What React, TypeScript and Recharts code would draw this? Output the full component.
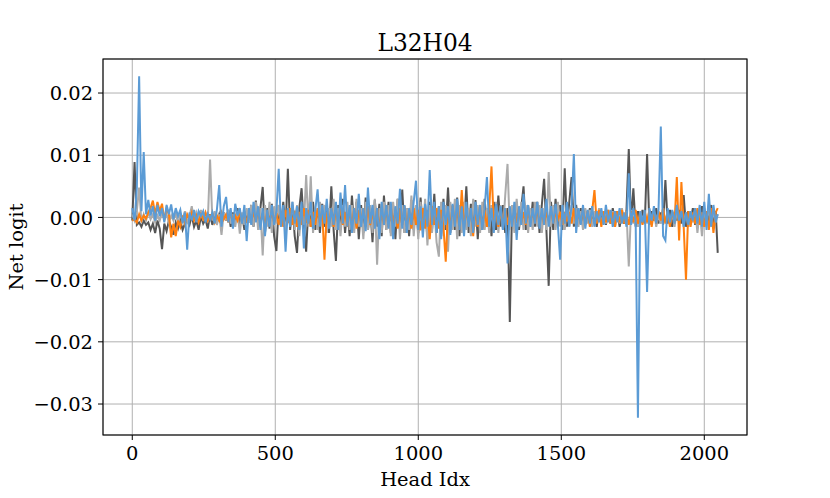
import React from 'react';
import { LineChart, Line, XAxis, YAxis, CartesianGrid } from 'recharts';

// Head index (sampled every 8 heads)
const HEAD_IDX = [
  0,8,16,24,32,40,48,56,64,72,80,88,96,104,112,120,
  128,136,144,152,160,168,176,184,192,200,208,216,224,232,240,248,
  256,264,272,280,288,296,304,312,320,328,336,344,352,360,368,376,
  384,392,400,408,416,424,432,440,448,456,464,472,480,488,496,504,
  512,520,528,536,544,552,560,568,576,584,592,600,608,616,624,632,
  640,648,656,664,672,680,688,696,704,712,720,728,736,744,752,760,
  768,776,784,792,800,808,816,824,832,840,848,856,864,872,880,888,
  896,904,912,920,928,936,944,952,960,968,976,984,992,1000,1008,1016,
  1024,1032,1040,1048,1056,1064,1072,1080,1088,1096,1104,1112,1120,1128,1136,1144,
  1152,1160,1168,1176,1184,1192,1200,1208,1216,1224,1232,1240,1248,1256,1264,1272,
  1280,1288,1296,1304,1312,1320,1328,1336,1344,1352,1360,1368,1376,1384,1392,1400,
  1408,1416,1424,1432,1440,1448,1456,1464,1472,1480,1488,1496,1504,1512,1520,1528,
  1536,1544,1552,1560,1568,1576,1584,1592,1600,1608,1616,1624,1632,1640,1648,1656,
  1664,1672,1680,1688,1696,1704,1712,1720,1728,1736,1744,1752,1760,1768,1776,1784,
  1792,1800,1808,1816,1824,1832,1840,1848,1856,1864,1872,1880,1888,1896,1904,1912,
  1920,1928,1936,1944,1952,1960,1968,1976,1984,1992,2000,2008,2016,2024,2032,2040,
  2047,
];

// Net logit values, in units of 1e-3
const BLUE = [
  1.5,-0.5,4.8,22.7,1.0,10.5,0.5,2.8,0.3,1.8,-0.5,2.0,0.2,1.5,-0.8,2.0,
  0.5,2.1,-0.3,1.5,0.2,1.2,-1.0,0.8,-5.2,0.8,-0.5,1.2,-0.8,1.0,0.2,1.0,
  -0.8,0.6,-0.3,0.8,-1.0,1.3,5.2,-1.5,1.8,3.3,-0.8,1.5,-1.8,2.2,0.3,1.5,
  -1.0,2.0,-3.8,1.5,-1.2,2.5,-0.8,1.8,-2.0,1.5,-3.0,1.2,-1.5,2.0,-1.2,1.0,
  7.8,-1.5,2.0,-5.5,1.5,-1.5,2.5,-1.0,1.8,-2.0,2.5,-5.0,1.5,-1.0,2.5,-1.8,
  1.2,4.5,-1.5,2.0,-1.0,3.0,-1.8,1.5,-1.2,2.5,-2.0,4.0,-1.0,5.2,-1.5,2.0,
  -2.5,1.5,-1.0,3.8,-1.5,1.5,-2.2,4.8,-1.0,2.0,-1.8,1.5,-3.5,2.5,-1.2,2.0,
  -1.8,2.5,-3.5,1.8,-1.0,4.6,-1.8,2.0,-2.5,1.5,-1.2,2.5,5.9,-2.0,1.8,-3.2,
  2.2,-1.5,7.6,-1.2,2.5,-2.5,1.8,-3.5,2.5,-1.2,1.8,-2.8,2.2,-1.5,3.0,-2.0,
  1.8,-3.0,2.5,-1.5,1.5,-2.5,2.5,-1.2,2.0,-2.0,1.5,6.5,-1.5,1.5,-2.5,2.2,
  -1.2,1.8,-2.0,1.5,-7.4,1.8,-1.5,2.5,-3.6,1.8,-1.2,3.8,-1.0,2.0,-1.5,1.5,
  -1.0,2.5,-1.8,1.5,-1.2,3.0,-1.5,1.8,-1.0,2.2,-1.2,-6.8,2.0,-1.0,2.5,-1.5,
  2.0,10.2,-2.5,1.5,-1.2,2.0,-1.8,1.2,-1.0,1.8,-1.5,1.0,-0.8,1.5,-1.2,2.0,
  -0.8,1.2,-1.5,1.0,-0.8,1.5,-1.0,0.8,-1.5,7.1,-1.2,1.5,-0.5,-32.2,1.0,-0.8,
  1.2,-12.0,1.5,-0.5,1.8,-1.0,1.2,14.6,-3.0,-3.7,1.5,-0.8,1.2,-1.0,2.0,-0.5,
  1.0,-1.5,0.8,-1.2,1.0,-0.5,1.5,-1.0,2.0,-1.5,2.5,-2.0,3.8,-1.5,2.0,-0.8,
  0.5,
];

const DARK_GRAY = [
  -0.5,8.9,-1.2,-0.8,-1.5,-0.5,-1.2,-0.8,-2.0,-1.0,-2.5,-0.5,-1.8,-5.1,-1.0,-2.2,
  -0.5,-1.5,-2.8,-0.8,-1.8,-0.5,-2.0,-1.0,-0.5,-1.2,0.3,-1.5,-0.5,-2.0,0.2,-1.0,
  -0.3,-1.8,0.5,-1.2,0.2,-0.8,0.5,-1.0,0.8,-0.5,1.2,-1.5,0.8,-0.8,1.5,-1.2,
  0.5,-2.0,1.0,-0.8,2.0,-1.5,2.7,-1.0,1.5,4.9,-2.5,1.5,-1.8,2.2,-3.0,-5.4,
  2.0,-1.5,2.5,-2.0,7.8,-2.0,2.0,-3.0,-5.7,1.5,4.7,-1.5,-5.5,2.0,-1.5,2.5,
  -2.0,1.2,-2.5,2.2,-1.5,1.5,-2.5,5.0,-2.0,-7.0,2.0,-1.5,3.0,-2.5,1.5,-3.0,
  3.5,-1.5,2.5,-3.5,2.0,-2.5,3.2,-2.0,1.5,-4.0,2.8,-1.5,2.2,-3.0,3.5,-2.0,
  2.5,-2.5,2.0,-3.5,3.0,-1.8,4.5,-2.5,1.5,-3.0,2.8,-2.0,2.0,-2.5,3.2,-1.5,
  2.0,-3.5,2.5,-2.0,3.8,-2.5,1.8,-3.0,3.0,-2.0,4.8,-2.5,2.0,-2.0,3.2,-3.0,
  2.0,-1.5,5.0,-2.5,2.2,-2.0,2.8,-3.5,2.0,-2.0,3.0,-1.5,2.0,-3.0,2.5,-2.0,
  3.5,-1.5,2.0,-2.5,1.5,-16.8,2.0,-1.5,2.5,-2.0,1.5,5.0,-2.0,2.0,-1.5,2.5,
  -1.5,2.5,-2.5,2.0,6.2,-2.0,-11.0,2.5,-2.0,3.0,-1.5,2.0,-2.0,7.9,-1.5,2.5,
  6.5,-1.5,2.0,-1.0,1.5,-1.2,1.0,-0.8,1.5,-1.0,0.8,-1.5,1.2,-0.5,1.0,-1.2,
  0.8,-1.0,1.5,-0.8,1.0,-1.5,0.5,-1.0,1.2,11.0,-1.0,4.7,-1.5,1.0,-0.8,1.2,
  -1.0,10.2,-1.2,1.0,-0.5,1.5,-1.0,0.8,-1.2,6.0,-1.0,1.2,-1.5,0.8,-0.5,1.2,
  -1.0,3.6,-1.5,1.0,-0.8,1.5,-1.2,0.5,-1.0,1.8,-1.5,1.0,-0.8,2.0,-1.5,1.0,
  -5.7,
];

const LIGHT_GRAY = [
  0.5,-0.5,1.0,4.8,-0.8,0.5,-0.5,0.8,-0.3,0.5,-0.8,0.3,-0.5,0.8,-0.3,0.5,
  -0.8,0.3,-0.5,0.8,-1.0,0.5,-0.3,1.0,-0.8,0.2,1.8,-0.5,0.8,-0.3,1.2,-0.5,
  0.8,-0.8,9.3,-0.5,1.0,-1.2,0.5,-2.8,0.8,-0.5,1.2,-1.0,0.5,-1.5,1.0,-2.6,
  0.8,-1.2,1.5,-0.8,2.0,-1.5,2.5,-2.0,1.5,-6.1,2.0,-1.5,2.5,-2.5,1.8,-1.0,
  2.0,-1.5,1.2,-2.5,1.5,-1.2,2.5,-2.0,2.0,-3.0,1.5,-1.2,6.8,-1.5,6.6,-2.5,
  1.5,-2.0,2.5,-1.2,2.0,-2.5,1.5,-1.5,3.0,-2.0,1.5,-3.0,2.0,-1.5,2.5,-2.0,
  2.0,-2.5,3.0,-1.5,1.5,-3.5,2.5,-2.0,2.0,-2.5,3.0,-7.6,1.5,-2.5,2.5,-2.0,
  2.0,-3.0,2.5,-1.5,3.0,-3.5,2.0,-2.5,1.5,-2.0,3.5,-3.0,2.0,-3.5,2.5,-2.0,
  3.0,-4.5,2.0,-2.5,1.5,-4.0,-6.3,2.5,-2.0,2.0,-5.5,2.5,-2.0,3.0,-3.5,2.0,
  -2.5,2.5,-2.0,1.5,-3.0,3.0,-1.5,2.0,-2.5,2.5,-2.0,1.5,-2.5,2.0,-1.5,2.5,
  -2.5,2.0,-2.0,3.5,8.6,-2.0,2.0,-2.5,3.0,-1.5,2.5,-2.0,2.0,-2.5,1.5,-2.0,
  2.5,-1.5,2.0,-2.5,1.5,-2.0,7.3,-1.5,2.0,-2.0,2.5,-1.5,2.0,-2.0,1.5,-1.5,
  2.0,-1.0,1.5,-1.5,1.0,-2.0,1.5,-1.0,1.2,-1.5,1.0,-0.8,1.5,-1.2,0.8,-1.0,
  1.2,-0.8,1.0,-1.5,0.8,-1.0,1.5,-0.8,1.0,-7.9,1.2,-1.0,0.8,-1.5,1.0,-0.5,
  0.8,-1.0,1.2,-0.8,1.0,-1.5,0.5,-1.0,1.5,-0.8,1.0,-1.2,0.8,-1.5,1.0,-0.8,
  1.2,-1.0,0.8,-1.5,1.0,-0.8,1.5,-2.5,1.0,-3.0,1.5,-1.0,2.0,-1.5,1.0,-0.5,
  0.5,
];

const ORANGE = [
  -0.5,-0.3,-0.8,0.5,-0.5,0.3,-0.2,0.8,1.5,2.7,0.5,2.5,1.0,2.2,-0.5,1.5,
  0.5,-3.2,-1.0,-3.0,-0.5,-1.5,0.3,-1.0,0.5,-0.3,0.8,-0.5,0.3,-0.8,0.5,-0.3,
  0.8,-0.5,0.3,0.5,-0.8,0.3,-0.5,0.8,-0.3,0.5,-0.8,1.0,-0.5,0.3,-0.5,0.8,
  -0.5,0.6,-0.9,0.7,-0.6,0.9,-0.7,1.2,-0.9,0.6,-1.2,0.9,-0.6,1.2,-0.9,0.7,
  -1.2,0.9,-1.5,1.2,-0.9,1.5,-1.2,1.1,-1.5,0.9,-1.2,1.5,-0.9,1.2,-1.5,0.9,
  -1.2,1.5,-0.9,1.2,-6.8,0.9,-1.2,1.5,-1.5,1.2,-0.9,1.7,-1.2,0.9,-1.5,1.2,
  -1.2,1.5,-1.8,1.2,-0.9,1.5,-1.5,1.8,-1.2,0.9,-1.5,1.5,-1.8,1.2,-1.2,1.5,
  -1.5,1.8,-1.2,1.2,-1.8,1.5,-1.2,1.8,-1.5,1.2,-1.8,1.5,-1.2,1.2,-2.1,1.5,
  -1.8,1.2,-3.5,1.8,-1.2,1.5,-1.8,1.2,-1.5,-7.1,1.2,-1.5,1.8,-1.2,1.5,-1.8,
  4.4,-1.5,1.2,-1.2,1.5,-3.0,1.2,-1.5,1.8,-1.8,1.2,-1.5,1.5,8.2,-1.2,1.2,
  -1.5,1.2,-0.9,1.5,-1.2,0.9,-1.2,1.2,-0.9,1.5,-0.9,0.9,-1.2,1.2,-0.9,0.9,
  -0.9,1.2,-0.9,0.9,-1.2,0.9,-0.6,1.2,-0.9,0.9,-0.6,0.9,-1.2,0.9,-0.6,0.9,
  -1.0,1.5,-1.5,1.0,-1.0,1.5,-1.2,1.0,-1.5,1.0,4.4,-1.0,1.2,-1.5,1.0,-0.8,
  1.2,-1.0,0.8,-1.5,1.0,-0.8,1.2,-1.0,0.8,-1.2,1.0,-0.8,1.2,-1.0,0.5,-1.2,
  1.0,-0.8,1.2,-1.5,0.8,-1.0,1.0,-0.5,1.5,-1.0,0.8,-1.5,1.0,-0.8,6.5,-3.7,
  5.7,-1.5,-10.0,1.0,-1.5,0.8,-1.0,1.5,-1.2,0.8,-1.5,1.0,-2.0,1.5,-2.5,0.8,
  1.5,
];

const UNIT = 0.001;

const X_TICKS = [0, 500, 1000, 1500, 2000];
const X_TICK_LABELS = ['0', '500', '1000', '1500', '2000'];
const Y_TICKS = [-0.03, -0.02, -0.01, 0, 0.01, 0.02];
const Y_TICK_LABELS = ['\u22120.03', '\u22120.02', '\u22120.01', '0.00', '0.01', '0.02'];
const X_DOMAIN: [number, number] = [-102.35, 2149.35];
const Y_DOMAIN: [number, number] = [-0.03498, 0.02547];

const TITLE = 'L32H04';
const X_LABEL = 'Head Idx';
const Y_LABEL = 'Net logit';

const W = 830;
const H = 498;
const PLOT = { left: 103, top: 59, right: 747, bottom: 435 };
const FONT = '"DejaVu Serif", serif';
const FS = 19.44;
const LW = 2;

const data = HEAD_IDX.map((x, i) => ({
  x,
  dark: DARK_GRAY[i] * UNIT,
  light: LIGHT_GRAY[i] * UNIT,
  orange: ORANGE[i] * UNIT,
  blue: BLUE[i] * UNIT,
}));

const nearestIndex = (arr: number[], v: number) => {
  let best = 0;
  for (let i = 1; i < arr.length; i++) {
    if (Math.abs(arr[i] - v) < Math.abs(arr[best] - v)) best = i;
  }
  return best;
};

const XTick = (props: any) => {
  const { x, payload } = props;
  const label = X_TICK_LABELS[nearestIndex(X_TICKS, payload.value)];
  return (
    <text x={x} y={PLOT.bottom + 25} textAnchor="middle" fontFamily={FONT} fontSize={FS} fill="#000">
      {label}
    </text>
  );
};

const YTick = (props: any) => {
  const { y, payload } = props;
  const label = Y_TICK_LABELS[nearestIndex(Y_TICKS, payload.value)];
  return (
    <text x={PLOT.left - 10} y={y + 7.1} textAnchor="end" fontFamily={FONT} fontSize={FS} fill="#000">
      {label}
    </text>
  );
};

export default function App() {
  const cx = (PLOT.left + PLOT.right) / 2;
  const cy = (PLOT.top + PLOT.bottom) / 2;
  return (
    <div style={{ position: 'absolute', left: 0, top: 0, width: W, height: H, background: '#fff' }}>
      <LineChart
        width={W}
        height={H}
        data={data}
        margin={{ top: PLOT.top, right: W - PLOT.right, bottom: 0, left: 0 }}
      >
        <CartesianGrid stroke="#b0b0b0" strokeWidth={1} />
        <XAxis
          dataKey="x"
          type="number"
          domain={X_DOMAIN}
          ticks={X_TICKS}
          allowDataOverflow
          height={H - PLOT.bottom}
          axisLine={false}
          tickLine={{ stroke: '#000', strokeWidth: 1 }}
          tickSize={5}
          tickMargin={5}
          tick={<XTick />}
          interval={0}
        />
        <YAxis
          type="number"
          domain={Y_DOMAIN}
          ticks={Y_TICKS}
          allowDataOverflow
          width={PLOT.left}
          axisLine={false}
          tickLine={{ stroke: '#000', strokeWidth: 1 }}
          tickSize={5}
          tickMargin={5}
          tick={<YTick />}
          interval={0}
        />
        <Line type="linear" dataKey="dark" stroke="#555555" strokeWidth={LW} dot={false} activeDot={false} isAnimationActive={false} />
        <Line type="linear" dataKey="light" stroke="#ababab" strokeWidth={LW} dot={false} activeDot={false} isAnimationActive={false} />
        <Line type="linear" dataKey="orange" stroke="#ff7f0e" strokeWidth={LW} dot={false} activeDot={false} isAnimationActive={false} />
        <Line type="linear" dataKey="blue" stroke="#5b9bd5" strokeWidth={LW} dot={false} activeDot={false} isAnimationActive={false} />
      </LineChart>
      <svg
        width={W}
        height={H}
        style={{ position: 'absolute', left: 0, top: 0, pointerEvents: 'none' }}
      >
        <rect
          x={PLOT.left}
          y={PLOT.top}
          width={PLOT.right - PLOT.left}
          height={PLOT.bottom - PLOT.top}
          fill="none"
          stroke="#000"
          strokeWidth={1.1}
        />
        <text x={cx} y={50.7} textAnchor="middle" fontFamily={FONT} fontSize={23.33} fill="#000">
          {TITLE}
        </text>
        <text x={cx} y={485.5} textAnchor="middle" fontFamily={FONT} fontSize={FS} fill="#000">
          {X_LABEL}
        </text>
        <text
          x={23.4}
          y={cy}
          textAnchor="middle"
          fontFamily={FONT}
          fontSize={FS}
          fill="#000"
          transform={`rotate(-90, 23.4, ${cy})`}
        >
          {Y_LABEL}
        </text>
      </svg>
    </div>
  );
}
